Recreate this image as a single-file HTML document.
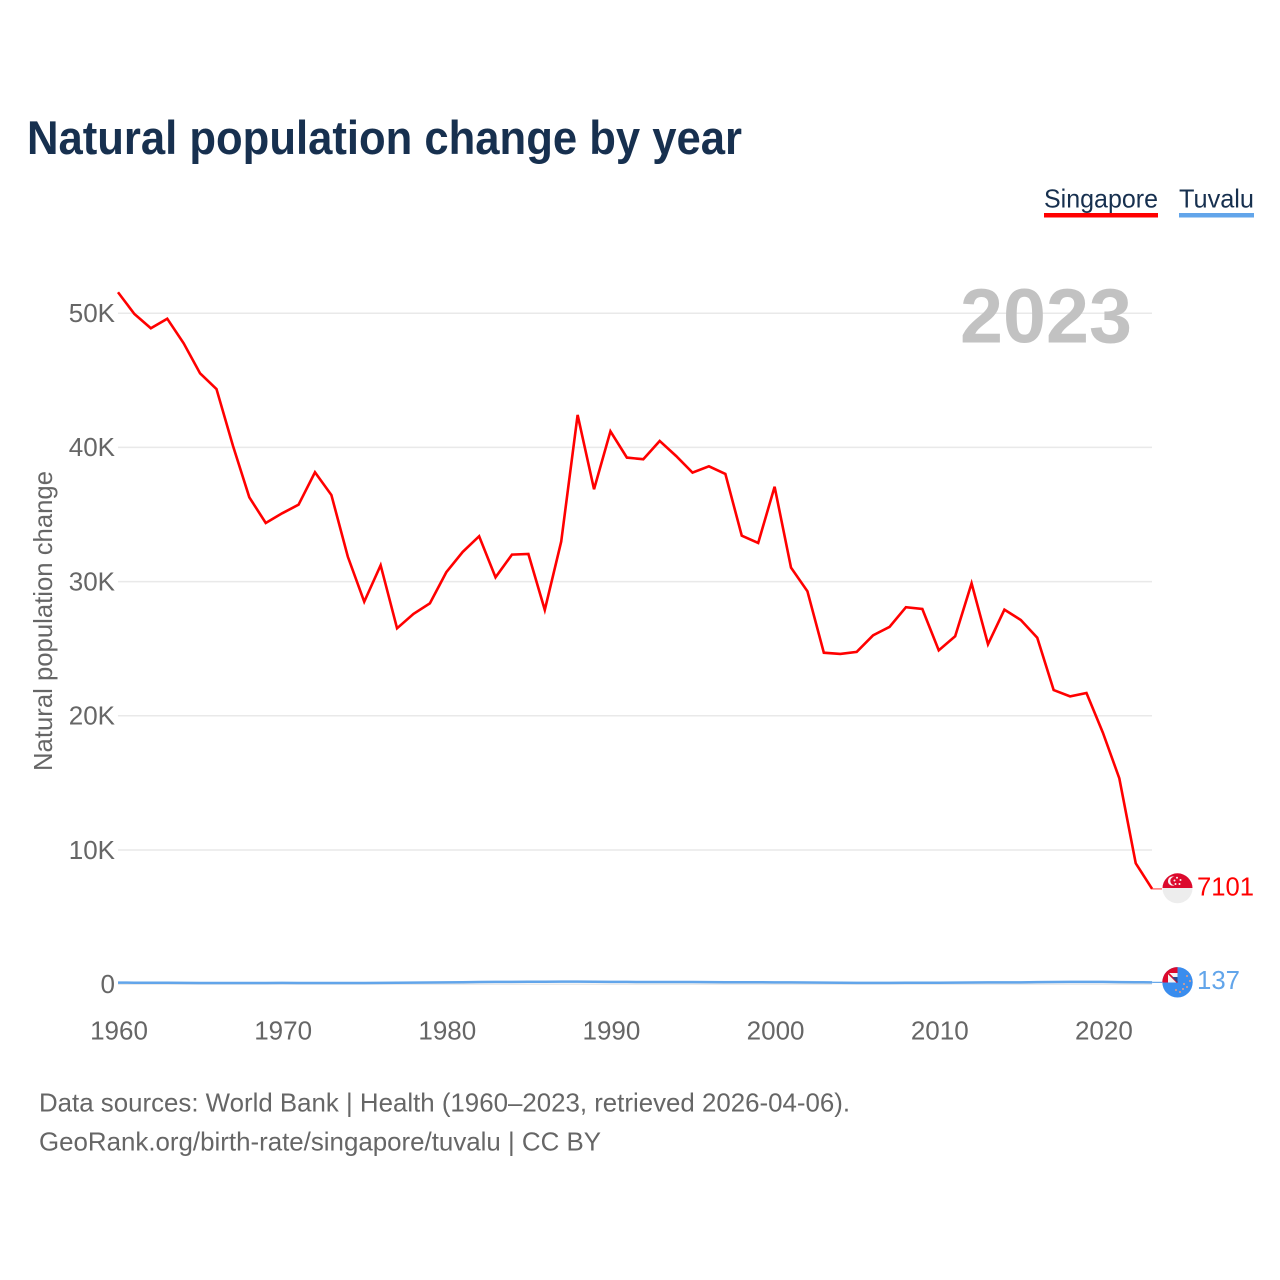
<!DOCTYPE html>
<html lang="en">
<head>
<meta charset="utf-8">
<title>Natural population change by year</title>
<style>
html,body{margin:0;padding:0;background:#fff;}
body{width:1280px;height:1280px;overflow:hidden;}
svg{display:block;}
text{font-family:"Liberation Sans",sans-serif;}
</style>
</head>
<body>
<svg id="chart" xmlns="http://www.w3.org/2000/svg" width="1280" height="1280" viewBox="0 0 1280 1280">
  <rect width="1280" height="1280" fill="#fff"/>
  <text x="27" y="154" font-size="47" font-weight="700" fill="#17304f" textLength="715" lengthAdjust="spacingAndGlyphs">Natural population change by year</text>

  <g>
    <text x="1044" y="207.5" font-size="26" fill="#17304f" textLength="114" lengthAdjust="spacingAndGlyphs">Singapore</text>
    <rect x="1044" y="213" width="114" height="4.5" fill="#ff0000"/>
    <text x="1179" y="207.5" font-size="26" fill="#17304f" textLength="75" lengthAdjust="spacingAndGlyphs">Tuvalu</text>
    <rect x="1179" y="213" width="75" height="4.5" fill="#62a5ea"/>
  </g>

  <g id="grid"></g>
  <text x="960" y="342.5" font-size="77" font-weight="700" fill="#c2c2c2" textLength="172" lengthAdjust="spacingAndGlyphs">2023</text>
  <g id="yticks"></g>
  <g id="xticks"></g>
  <text transform="translate(52,771) rotate(-90)" font-size="26" fill="#666" textLength="300" lengthAdjust="spacingAndGlyphs">Natural population change</text>
  <g id="series"></g>

  <defs>
    <clipPath id="clip-sg"><circle cx="1177.5" cy="888.3" r="15"/></clipPath>
    <clipPath id="clip-tv"><circle cx="1177.5" cy="982.3" r="15.2"/></clipPath>
  </defs>
  <g clip-path="url(#clip-sg)">
    <rect x="1162" y="873" width="31" height="15" fill="#dc0a2d"/>
    <rect x="1162" y="888" width="31" height="17" fill="#ededed"/>
    <circle cx="1172.5" cy="881" r="4.6" fill="#f6f6f6"/>
    <circle cx="1174.5" cy="881" r="4.2" fill="#dc0a2d"/>
    <circle cx="1177" cy="877.8" r="1" fill="#f6f6f6"/>
    <circle cx="1180.5" cy="880" r="1" fill="#f6f6f6"/>
    <circle cx="1179.5" cy="884" r="1" fill="#f6f6f6"/>
    <circle cx="1175.5" cy="884" r="1" fill="#f6f6f6"/>
    <circle cx="1174.5" cy="880.5" r="1" fill="#f6f6f6"/>
  </g>
  <g clip-path="url(#clip-tv)">
    <rect x="1162" y="966" width="32" height="33" fill="#3a8dee"/>
    <rect x="1162" y="966" width="15.5" height="16.5" fill="#dc0a2d"/>
    <path d="M1168 973h9.5v9.5h-9.5z" fill="#f4f4f4"/>
    <path d="M1168 973L1177.5 982.5" stroke="#dc0a2d" stroke-width="1.6"/>
    <path d="M1172 977l5.500 0 0 5.500z" fill="#2a4a8c"/>
    <circle cx="1187" cy="976" r="1" fill="#e3a08a"/>
    <circle cx="1190" cy="981" r="1" fill="#e3a08a"/>
    <circle cx="1184" cy="984" r="1" fill="#e3a08a"/>
    <circle cx="1187" cy="987" r="1" fill="#e3a08a"/>
    <circle cx="1183" cy="989" r="1" fill="#e3a08a"/>
    <circle cx="1180" cy="992" r="1" fill="#e3a08a"/>
    <circle cx="1176" cy="990" r="1" fill="#e3a08a"/>
  </g>
  <text id="label-sg" x="1197" y="895.5" font-size="26" fill="#ff0000" textLength="57" lengthAdjust="spacingAndGlyphs"></text>
  <text id="label-tv" x="1197" y="989" font-size="26" fill="#62a5ea" textLength="43" lengthAdjust="spacingAndGlyphs"></text>

  <text x="39" y="1111.500" font-size="26" fill="#666" textLength="811" lengthAdjust="spacingAndGlyphs">Data sources: World Bank | Health (1960–2023, retrieved 2026-04-06).</text>
  <text x="39" y="1150.500" font-size="26" fill="#666" textLength="562" lengthAdjust="spacingAndGlyphs">GeoRank.org/birth-rate/singapore/tuvalu | CC BY</text>
</svg>
<script>
const firstYear = 1960;
const singaporeValues = [
  51560,49940,48880,49590,47760,45520,44350,40130,36280,34370,
  35090,35730,38150,36450,31860,28500,31220,26520,27590,28380,
  30700,32210,33380,30320,32010,32060,27890,32980,42420,36880,
  41200,39240,39120,40480,39360,38120,38590,38020,33420,32880,
  37070,31040,29280,24700,24610,24760,26000,26620,28090,27960,
  24880,25930,29870,25330,27910,27140,25820,21920,21450,21700,
  18740,15340,9010,7101
];
const tuvaluValues = [
  115,112,110,105,100,90,85,85,88,92,
  95,92,90,85,88,92,98,105,115,125,
  140,150,165,170,175,180,185,190,190,185,
  175,170,165,165,165,160,155,150,148,145,
  140,135,125,115,105,100,100,100,105,105,
  110,120,130,135,135,140,155,165,170,170,
  170,155,145,137
];
const yTickValues = [0,10000,20000,30000,40000,50000];
const yTickLabels = ["0","10K","20K","30K","40K","50K"];
const xTickYears = [1960,1970,1980,1990,2000,2010,2020];

const SVG_NS = "http://www.w3.org/2000/svg";
function xScale(year){ return 118 + (year - 1960) * 16.415; }
function yScale(value){ return 984.2 - value * 0.01342; }
function make(tag, attrs, parent){
  const el = document.createElementNS(SVG_NS, tag);
  for (const k in attrs) el.setAttribute(k, attrs[k]);
  parent.appendChild(el);
  return el;
}
function linePath(values){
  return values.map((v,i)=> (i?"L":"M") + xScale(firstYear+i).toFixed(2) + " " + yScale(v).toFixed(2)).join(" ");
}

const grid = document.getElementById("grid");
const yticks = document.getElementById("yticks");
const xticks = document.getElementById("xticks");
const series = document.getElementById("series");

yTickValues.forEach((v,i)=>{
  const gl = make("line",{x1:118,x2:1152,y1:yScale(v),y2:yScale(v),stroke:"#e9e9e9","stroke-width":1.5},grid);
  
  
  const t = make("text",{x:115,y:yScale(v)+8.8,"text-anchor":"end","font-size":26,fill:"#666"},yticks);
  t.textContent = yTickLabels[i];
  
  
});

xTickYears.forEach((yr)=>{
  const t = make("text",{x:xScale(yr)+1,y:1039.5,"text-anchor":"middle","font-size":26,fill:"#666"},xticks);
  t.textContent = String(yr);
  
  
});

const lastYear = firstYear + singaporeValues.length - 1;

const tvLine = make("path",{d:linePath(tuvaluValues),fill:"none",stroke:"#62a5ea","stroke-width":2.5,"stroke-linejoin":"round"},series);


const tvLead = make("line",{x1:xScale(lastYear),x2:1162,y1:yScale(tuvaluValues[tuvaluValues.length-1]),y2:yScale(tuvaluValues[tuvaluValues.length-1]),stroke:"#62a5ea","stroke-width":1.2},series);



const sgLine = make("path",{d:linePath(singaporeValues),fill:"none",stroke:"#ff0000","stroke-width":2.6,"stroke-linejoin":"miter"},series);


const sgLead = make("line",{x1:xScale(lastYear),x2:1162,y1:yScale(singaporeValues[singaporeValues.length-1]),y2:yScale(singaporeValues[singaporeValues.length-1]),stroke:"#ff5555","stroke-width":1.2},series);



document.getElementById("label-sg").textContent = String(singaporeValues[singaporeValues.length-1]);
document.getElementById("label-tv").textContent = String(tuvaluValues[tuvaluValues.length-1]);
</script>
</body>
</html>
